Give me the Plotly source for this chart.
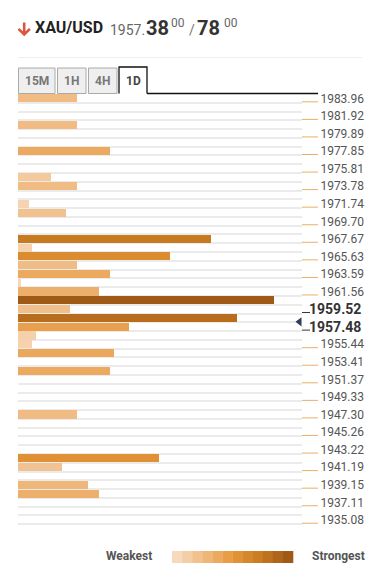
import plotly.graph_objects as go
from plotly.colors import sample_colorscale

# ---------------- data ----------------
row_step = 1.01833
top_level = 1983.96
n_rows = 50

bar_levels = [1983.96, 1980.91, 1977.85, 1974.80, 1973.78, 1971.74, 1970.72,
              1967.67, 1966.65, 1965.63, 1964.61, 1963.59, 1962.58, 1961.56,
              1960.54, 1959.52, 1958.50, 1957.48, 1956.46, 1955.44, 1954.43,
              1952.39, 1947.30, 1942.21, 1941.19, 1939.15, 1938.13]
bar_strength = [59, 59, 92, 33, 59, 11, 48,
                193, 14, 152, 59, 92, 3, 81,
                256, 52, 219, 111, 18, 14, 96,
                92, 59, 141, 44, 70, 81]

tick_labels = ["1983.96", "1981.92", "1979.89", "1977.85", "1975.81", "1973.78",
               "1971.74", "1969.70", "1967.67", "1965.63", "1963.59", "1961.56",
               "1959.52", "1957.48", "1955.44", "1953.41", "1951.37", "1949.33",
               "1947.30", "1945.26", "1943.22", "1941.19", "1939.15", "1937.11",
               "1935.08"]
bold_labels = ["1959.52", "1957.48"]
marker_price = 1958.05

colorscale = [[0.0, "#F7DABD"], [0.25, "#EFB97E"], [0.5, "#E6973A"],
              [0.75, "#C97A20"], [1.0, "#A05A18"]]

# ---------------- geometry (page pixels; page body has an 8px margin) ----------------
OFF = 8
W, H = 384 - OFF, 584 - OFF
L, R, T, B = 18, 302, 94, 533
x_max = R - L
y_lo = top_level - (n_rows - 0.5) * row_step
y_hi = top_level + 0.5 * row_step


def px(x):
    return (x - L) / (R - L)


def py(y):
    return (B - y) / (B - T)


tick_vals = [float(t) for t in tick_labels]
tick_text = ["" if t in bold_labels else t for t in tick_labels]
boundaries = [top_level + 0.5 * row_step - k * row_step for k in range(n_rows + 1)]

fig = go.Figure()
fig.add_trace(go.Bar(
    x=bar_strength, y=bar_levels, orientation="h", width=0.92 * row_step,
    marker=dict(color=bar_strength, colorscale=colorscale, cmin=0,
                cmax=max(bar_strength), line=dict(width=0)),
    hoverinfo="skip", showlegend=False))

# price marker triangle
fig.add_trace(go.Scatter(
    x=[x_max - 2.5], y=[marker_price], mode="markers",
    marker=dict(symbol="triangle-left", size=8, color="#2E3E5C"),
    cliponaxis=False, hoverinfo="skip", showlegend=False))

shapes = []
annotations = []

# current price line
shapes.append(dict(type="line", xref="x", yref="y", x0=0, x1=x_max,
                   y0=marker_price, y1=marker_price, layer="below",
                   line=dict(color="#2E3E5C", width=1.2)))

# tick underline marks
tick_off = 0.39 * row_step
for v, t in zip(tick_vals, tick_labels):
    if t in bold_labels:
        shapes.append(dict(type="line", xref="paper", yref="y", x0=1.0, x1=px(310),
                           y0=v - tick_off, y1=v - tick_off,
                           line=dict(color="#333333", width=1)))
        annotations.append(dict(text="<b>" + t + "</b>", xref="paper", yref="y",
                                x=px(363), y=v, xanchor="right", yanchor="middle",
                                showarrow=False,
                                font=dict(family="Roboto", size=14, color="#333333")))
    else:
        shapes.append(dict(type="line", xref="paper", yref="y", x0=1.0, x1=px(318),
                           y0=v - tick_off, y1=v - tick_off,
                           line=dict(color="#EBAE6A", width=1)))

# header
def ann(text, x, y, size, color, xanchor="left", bold=False, family="Roboto"):
    annotations.append(dict(text=("<b>%s</b>" % text) if bold else text,
                            xref="paper", yref="paper", x=px(x), y=py(y),
                            xanchor=xanchor, yanchor="middle", showarrow=False,
                            font=dict(family=family, size=size, color=color)))

# down arrow icon
shapes.append(dict(type="path", xref="paper", yref="paper",
                   path="M %f %f L %f %f M %f %f L %f %f L %f %f" % (
                       px(24.2), py(22.5), px(24.2), py(34.5),
                       px(18.5), py(28.8), px(24.2), py(34.5), px(29.9), py(28.8)),
                   line=dict(color="#DB5642", width=2.6)))
ann("XAU/USD", 33, 28, 16, "#222222", bold=True)
ann("1957.", 108, 30, 14, "#666666")
ann("38", 144, 28, 20, "#333333", bold=True)
ann("00", 169, 23, 12, "#666666")
ann("/", 187, 30, 14, "#777777")
ann("78", 195, 28, 20, "#333333", bold=True)
ann("00", 222, 23, 12, "#666666")

shapes.append(dict(type="line", xref="paper", yref="paper", x0=px(18), x1=px(362),
                   y0=py(57.5), y1=py(57.5), line=dict(color="#EEEEEE", width=1)))

# tabs
tabs = [("15M", 18.5, 55, False), ("1H", 57.5, 86, False),
        ("4H", 88.5, 117, False), ("1D", 119, 147, True)]
for name, x0, x1, active in tabs:
    if active:
        shapes.append(dict(type="path", xref="paper", yref="paper",
                           path="M %f %f L %f %f L %f %f L %f %f" % (
                               px(x0), py(93.5), px(x0), py(67), px(x1), py(67), px(x1), py(93.5)),
                           fillcolor="#FFFFFF", line=dict(color="#111111", width=1.3)))
        ann(name, (x0 + x1) / 2, 81, 12, "#444444", xanchor="center", bold=True)
    else:
        shapes.append(dict(type="rect", xref="paper", yref="paper",
                           x0=px(x0), x1=px(x1), y0=py(93.5), y1=py(68),
                           fillcolor="#EFEFEF", line=dict(color="#AAAAAA", width=1)))
        ann(name, (x0 + x1) / 2, 81, 12, "#777777", xanchor="center", bold=True)
shapes.append(dict(type="line", xref="paper", yref="paper", x0=px(147), x1=px(318),
                   y0=py(93.5), y1=py(93.5), line=dict(color="#111111", width=1.3)))

# legend
n_seg = 12
seg_cols = sample_colorscale(colorscale, [i / (n_seg - 1) for i in range(n_seg)])
gx0, gx1 = 172, 293
seg_w = (gx1 - gx0) / n_seg
for i, c in enumerate(seg_cols):
    shapes.append(dict(type="rect", xref="paper", yref="paper",
                       x0=px(gx0 + i * seg_w), x1=px(gx0 + (i + 1) * seg_w + 0.3),
                       y0=py(563), y1=py(551), fillcolor=c, line=dict(width=0)))
ann("Weakest", 154, 556, 12, "#555555", xanchor="right", bold=True)
ann("Strongest", 310, 556, 12, "#555555", bold=True)

fig.update_layout(
    width=W, height=H,
    margin=dict(l=L - OFF, r=384 - R, t=T - OFF, b=584 - B, pad=0),
    paper_bgcolor="white", plot_bgcolor="white",
    bargap=0, showlegend=False,
    xaxis=dict(range=[0, x_max], visible=False, fixedrange=True),
    yaxis=dict(range=[y_lo, y_hi], side="right", tickmode="array",
               tickvals=tick_vals, ticktext=tick_text, ticks="outside",
               ticklen=15, tickcolor="rgba(0,0,0,0)", showgrid=False,
               zeroline=False, showline=False,
               tickfont=dict(family="Roboto", size=12, color="#555555"),
               minor=dict(tickmode="array", tickvals=boundaries, showgrid=True,
                          gridcolor="#EBEBEB", gridwidth=1.5, ticks=""),
               fixedrange=True),
    shapes=shapes, annotations=annotations,
)

fig.write_html("out.html")
